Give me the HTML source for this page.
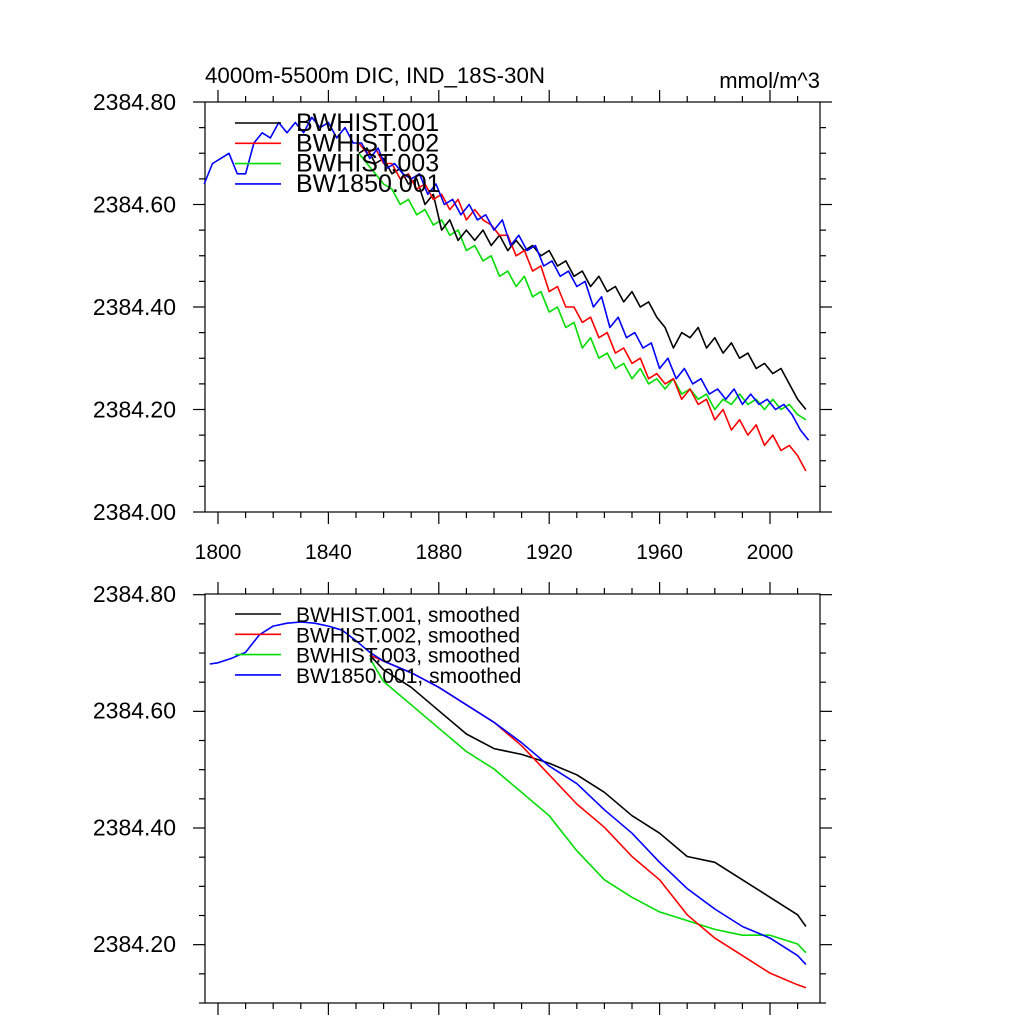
<!DOCTYPE html>
<html><head><meta charset="utf-8">
<style>
html,body{margin:0;padding:0;background:#fff;}
svg{display:block;font-family:"Liberation Sans",sans-serif;}
</style></head>
<body>
<svg id="chart" width="1024" height="1024" viewBox="0 0 1024 1024" xmlns="http://www.w3.org/2000/svg">
<rect width="1024" height="1024" fill="#fff"/>
<text x="205" y="83" font-size="22" textLength="340" lengthAdjust="spacingAndGlyphs">4000m-5500m DIC, IND_18S-30N</text>
<text x="820" y="88" font-size="22" text-anchor="end">mmol/m^3</text>
<g id="top"></g>
<g id="bot"></g>
</svg>
<script>
// ---- data ----
const xTicks = [1800, 1840, 1880, 1920, 1960, 2000];
const topYTicks = [2384.00, 2384.20, 2384.40, 2384.60, 2384.80];
const botYTicks = [2384.20, 2384.40, 2384.60, 2384.80];
const seriesNames = ["BWHIST.001", "BWHIST.002", "BWHIST.003", "BW1850.001"];
const seriesColors = ["#000000", "#ff0000", "#00dd00", "#0000ff"];

const rawStep = 3;
const blueRawStart = 1795;
const blueRaw = [.64,.68,.69,.70,.66,.66,.72,.74,.73,.76,.74,.76,.74,.77,.75,.76,.73,.75,.72,.72,.69,.71,.67,.68,.66,.65,.66,.62,.64,.60,.61,.58,.60,.57,.58,.55,.57,.52,.54,.51,.52,.48,.49,.46,.47,.44,.45,.40,.42,.36,.38,.34,.35,.32,.33,.28,.30,.26,.28,.25,.26,.23,.24,.22,.24,.21,.23,.21,.22,.20,.21,.19,.16,.14];
const histRawStart = 1851;
const blackRaw = [.70,.71,.68,.69,.66,.67,.64,.65,.60,.62,.55,.57,.53,.55,.53,.55,.52,.54,.51,.53,.51,.52,.50,.51,.48,.49,.46,.47,.44,.46,.43,.44,.41,.43,.40,.41,.38,.36,.32,.35,.34,.36,.32,.34,.31,.33,.30,.31,.28,.29,.27,.28,.25,.22,.20];
const redRaw = [.72,.70,.71,.68,.68,.65,.66,.63,.64,.61,.62,.59,.61,.57,.59,.57,.56,.54,.54,.50,.51,.47,.48,.43,.44,.40,.40,.37,.38,.34,.35,.31,.32,.29,.30,.26,.27,.25,.26,.22,.24,.21,.22,.18,.20,.16,.18,.15,.17,.13,.15,.12,.13,.11,.08];
const greenRaw = [.70,.68,.66,.64,.63,.60,.61,.58,.59,.56,.57,.54,.55,.51,.52,.49,.50,.46,.47,.44,.46,.42,.43,.39,.40,.36,.37,.32,.34,.30,.31,.28,.29,.26,.28,.25,.26,.24,.26,.23,.24,.22,.23,.20,.22,.21,.23,.21,.22,.20,.22,.20,.21,.19,.18];

const blueSmYears = [1797,1800,1805,1810,1815,1820,1825,1830,1835,1840,1845,1850,1855,1860,1870,1880,1890,1900,1910,1920,1930,1940,1950,1960,1970,1980,1990,2000,2010,2013];
const blueSm = [.68,.682,.69,.70,.73,.745,.75,.752,.75,.745,.738,.72,.70,.685,.665,.64,.61,.58,.545,.505,.475,.43,.39,.34,.295,.26,.23,.21,.18,.165];
const histSmYears = [1855,1860,1870,1880,1890,1900,1910,1920,1930,1940,1950,1960,1970,1980,1990,2000,2010,2013];
const blackSm = [.695,.67,.64,.60,.56,.535,.525,.51,.49,.46,.42,.39,.35,.34,.31,.28,.25,.23];
const redSm = [.695,.685,.665,.64,.61,.58,.54,.49,.44,.40,.35,.31,.25,.21,.18,.15,.13,.125];
const greenSm = [.69,.65,.61,.57,.53,.50,.46,.42,.36,.31,.28,.255,.24,.225,.215,.215,.20,.185];

// ---- helpers ----
const NS = "http://www.w3.org/2000/svg";
function mk(tag, attrs, parent){const e=document.createElementNS(NS,tag);for(const k in attrs)e.setAttribute(k,attrs[k]);parent.appendChild(e);return e;}
const X0=205, X1=820;
function xS(yr){return 218 + (yr-1800)*(552/200);}

function panel(g, top, bottom, vmin, vmax, yTicks, labelX){
  const yS = v => bottom - (v - vmin)/(vmax - vmin)*(bottom-top);
  const frame = mk("rect",{x:X0,y:top,width:X1-X0,height:bottom-top,fill:"none",stroke:"#000","stroke-width":1.2},g);
  
  
  for(let yr=1790; yr<=2020; yr+=10){
    const x=xS(yr); if(x<X0||x>X1) continue;
    const major = (yr-1800)%40===0;
    const L = major?12:6;
    mk("line",{x1:x,y1:bottom,x2:x,y2:bottom+L,stroke:"#000","stroke-width":1.2},g);
    mk("line",{x1:x,y1:top,x2:x,y2:top-L,stroke:"#000","stroke-width":1.2},g);
  }
  if(labelX){
    xTicks.forEach(t=>{
      const tx=mk("text",{x:xS(t),y:bottom+47,"font-size":21,"text-anchor":"middle"},g);
      tx.textContent=t;
      
      
    });
  }
  for(let k=0;;k++){
    const v=vmin+k*0.05; if(v>vmax+1e-6) break;
    const y=yS(v); if(y<top-0.5) break;
    const major = (Math.round(v*100))%20===0;
    const L = major?12:6;
    mk("line",{x1:X0,y1:y,x2:X0-L,y2:y,stroke:"#000","stroke-width":1.2},g);
    mk("line",{x1:X1,y1:y,x2:X1+L,y2:y,stroke:"#000","stroke-width":1.2},g);
  }
  yTicks.forEach(t=>{
    const y=yS(t);
    const ty=mk("text",{x:176,y:y+8,"font-size":23,"text-anchor":"end"},g);
    ty.textContent=t.toFixed(2);
    
    
  });
  return yS;
}

function line(g, xs, vals, base, yS, color, name){
  const pts = vals.map((v,i)=>xS(xs(i)).toFixed(1)+","+yS(base+v).toFixed(1)).join(" ");
  const p=mk("polyline",{points:pts,fill:"none",stroke:color,"stroke-width":1.6,"stroke-linejoin":"round"},g);
  
  
}

function legend(g, y0, suffix, fs){
  seriesNames.forEach((n,i)=>{
    const y=y0+i*20.3;
    const l=mk("line",{x1:235,y1:y,x2:281,y2:y,stroke:seriesColors[i],"stroke-width":1.6},g);
    
    
    const t=mk("text",{x:296,y:y+8,"font-size":fs},g);
    t.textContent=n+suffix;
    
    
  });
}

const base=2384;
const gt=document.getElementById("top");
const ySt=panel(gt,102,512,2384.0,2384.8,topYTicks,true);
line(gt,i=>histRawStart+i*rawStep,greenRaw,base,ySt,seriesColors[2],"series-bwhist-003");
line(gt,i=>histRawStart+i*rawStep,blackRaw,base,ySt,seriesColors[0],"series-bwhist-001");
line(gt,i=>histRawStart+i*rawStep,redRaw,base,ySt,seriesColors[1],"series-bwhist-002");
line(gt,i=>blueRawStart+i*rawStep,blueRaw,base,ySt,seriesColors[3],"series-bw1850-001");
legend(gt,123,"",25);

const gb=document.getElementById("bot");
const ySb=panel(gb,594,1003,2384.8-(1003-594)/583.3,2384.8,botYTicks,false);
line(gb,i=>histSmYears[i],greenSm,base,ySb,seriesColors[2],"smoothed-bwhist-003");
line(gb,i=>histSmYears[i],blackSm,base,ySb,seriesColors[0],"smoothed-bwhist-001");
line(gb,i=>histSmYears[i],redSm,base,ySb,seriesColors[1],"smoothed-bwhist-002");
line(gb,i=>blueSmYears[i],blueSm,base,ySb,seriesColors[3],"smoothed-bw1850-001");
legend(gb,614,", smoothed",21);
</script>
</body></html>
